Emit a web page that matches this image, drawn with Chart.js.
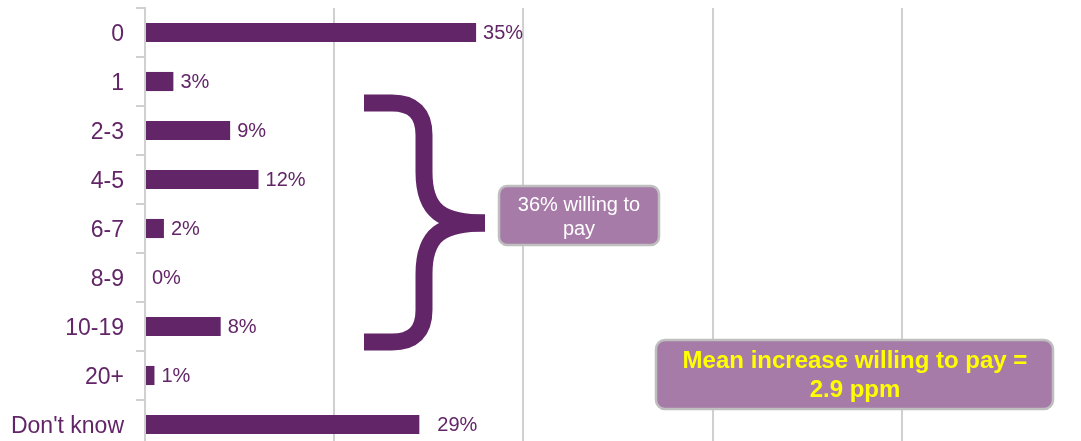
<!DOCTYPE html>
<html>
<head>
<meta charset="utf-8">
<script src="https://cdn.jsdelivr.net/npm/chart.js@4"></script>
<style>
  html, body { margin: 0; padding: 0; background: #fff; overflow: hidden; }
  #wrap { width: 1093px; height: 449px; }
</style>
</head>
<body>
<div id="wrap"><canvas id="chart"></canvas></div>
<script>
// categories and values
const categories = ["0", "1", "2-3", "4-5", "6-7", "8-9", "10-19", "20+", "Don't know"];
const shares = [35, 3, 9, 12, 2, 0, 8, 1, 29];
const gridTicks = [0, 20, 40, 60, 80, 100];

const PURPLE = "#622567";
const GRID = "#d0d0d0";

// text on the bar ends
const barLabels = {
  id: "barLabels",
  afterDatasetsDraw(chart) {
    const ctx = chart.ctx;
    const meta = chart.getDatasetMeta(0);
    ctx.save();
    ctx.font = "20px 'Liberation Sans', Arial, sans-serif";
    ctx.fillStyle = PURPLE;
    ctx.textAlign = "left";
    ctx.textBaseline = "middle";
    meta.data.forEach((bar, i) => {
      const gap = i === categories.length - 1 ? 18 : 7; // "Don't know" label sits further out
      ctx.fillText(shares[i] + "%", bar.x + gap, bar.y + 1);
    });
    ctx.restore();
  }
};

function roundBox(ctx, x, y, w, h, r) {
  ctx.beginPath();
  ctx.moveTo(x + r, y);
  ctx.arcTo(x + w, y, x + w, y + h, r);
  ctx.arcTo(x + w, y + h, x, y + h, r);
  ctx.arcTo(x, y + h, x, y, r);
  ctx.arcTo(x, y, x + w, y, r);
  ctx.closePath();
  ctx.fillStyle = "#a67ba8";
  ctx.fill();
  ctx.lineWidth = 2.5;
  ctx.strokeStyle = "#bfbfbf";
  ctx.stroke();
}

// brace and the two call-out boxes
const callouts = {
  id: "callouts",
  afterDraw(chart) {
    const ctx = chart.ctx;
    ctx.save();

    // curly brace
    ctx.strokeStyle = PURPLE;
    ctx.lineWidth = 17;
    ctx.lineCap = "butt";
    ctx.beginPath();
    ctx.moveTo(364, 103);
    ctx.lineTo(392, 103);
    ctx.quadraticCurveTo(424, 103, 424, 135);
    ctx.lineTo(424, 172);
    ctx.bezierCurveTo(424, 212, 442, 223, 485, 223);
    ctx.stroke();
    ctx.beginPath();
    ctx.moveTo(485, 223);
    ctx.bezierCurveTo(442, 223, 424, 234, 424, 274);
    ctx.lineTo(424, 310);
    ctx.quadraticCurveTo(424, 342, 392, 342);
    ctx.lineTo(364, 342);
    ctx.stroke();

    // 36% box
    roundBox(ctx, 499, 186, 160, 59, 8);
    ctx.fillStyle = "#ffffff";
    ctx.textAlign = "center";
    ctx.textBaseline = "alphabetic";
    ctx.font = "20px 'Liberation Sans', Arial, sans-serif";
    ctx.fillText("36% willing to", 579, 211);
    ctx.fillText("pay", 579, 235);

    // mean box
    roundBox(ctx, 656, 340, 397, 69, 9);
    ctx.fillStyle = "#ffff00";
    ctx.font = "bold 24px 'Liberation Sans', Arial, sans-serif";
    ctx.fillText("Mean increase willing to pay =", 855, 368);
    ctx.fillText("2.9 ppm", 855, 397);

    ctx.restore();
  }
};

new Chart(document.getElementById("chart"), {
  type: "bar",
  data: {
    labels: categories,
    datasets: [{
      data: shares,
      backgroundColor: PURPLE,
      borderWidth: 0,
      barPercentage: 0.39,
      categoryPercentage: 1
    }]
  },
  options: {
    indexAxis: "y",
    responsive: true,
    maintainAspectRatio: false,
    animation: false,
    layout: { padding: { top: 8, right: 2, bottom: 0, left: 0 } },
    plugins: {
      legend: { display: false },
      tooltip: { enabled: false },
      title: { display: false }
    },
    scales: {
      x: {
        min: gridTicks[0],
        max: gridTicks[gridTicks.length - 1],
        afterBuildTicks: (s) => { s.ticks = gridTicks.map((v) => ({ value: v })); },
        ticks: { display: false },
        grid: { color: GRID, lineWidth: 2, drawTicks: false },
        border: { display: false },
        afterFit: (s) => { s.height = 0; s.paddingLeft = 0; s.paddingRight = 0; }
      },
      y: {
        ticks: {
          color: PURPLE,
          padding: 12,
          labelOffset: 2,
          font: { family: "'Liberation Sans', Arial, sans-serif", size: 23 }
        },
        grid: {
          offset: true,
          drawOnChartArea: false,
          drawTicks: true,
          tickLength: 9,
          color: GRID,
          lineWidth: 2
        },
        border: { display: true, color: GRID, width: 2 },
        afterFit: (s) => { s.width = 145; s.paddingTop = 0; s.paddingBottom = 0; }
      }
    }
  },
  plugins: [barLabels, callouts]
});
</script>
</body>
</html>
